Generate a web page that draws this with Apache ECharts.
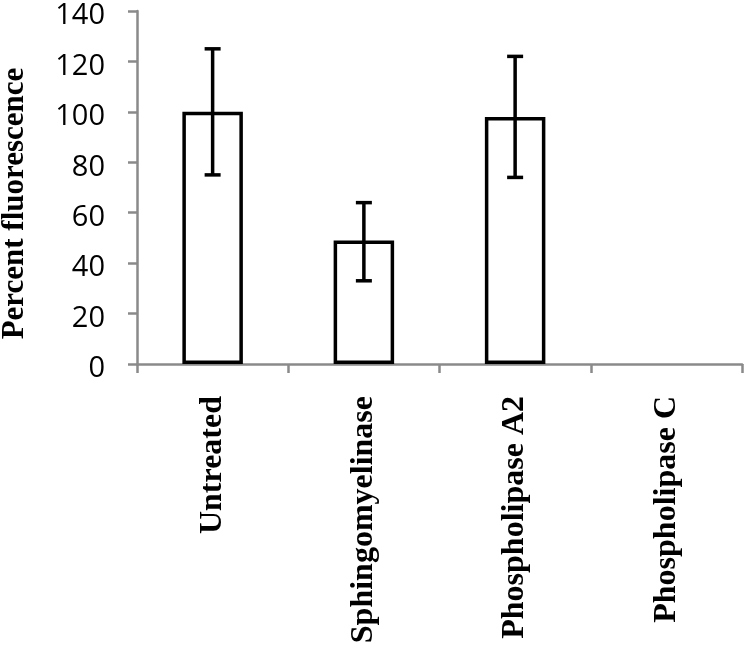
<!DOCTYPE html>
<html>
<head>
<meta charset="utf-8">
<script src="https://cdn.jsdelivr.net/npm/echarts@6/dist/echarts.min.js"></script>
<style>html,body{margin:0;padding:0;background:#fff}#c{width:747px;height:650px}</style>
</head>
<body>
<div id="c"></div>
<script>
const categories = ['Untreated', 'Sphingomyelinase', 'Phospholipase A2', 'Phospholipase C'];
const values = [100, 49, 98, 0];
const errLow = [75, 33, 74, null];
const errHigh = [125, 64, 122, null];
const yTicks = [0, 20, 40, 60, 80, 100, 120, 140];

const chart = echarts.init(document.getElementById('c'), null, {renderer: 'canvas'});
const errData = categories.map((c, i) => [i, errLow[i], errHigh[i]]).filter(d => d[1] != null);
const barData = values.map(v => v === 0 ? {value: v, itemStyle: {borderWidth: 0}} : v);

chart.setOption({
  animation: false,
  backgroundColor: '#fff',
  grid: {left: 137, right: 5, top: 11, bottom: 286, containLabel: false, outerBoundsMode: 'none'},
  xAxis: {
    type: 'category',
    data: categories,
    axisLine: {lineStyle: {color: '#8a8a8a', width: 2.5}},
    axisTick: {show: true, length: 9, inside: false, alignWithLabel: false, lineStyle: {color: '#8a8a8a', width: 2.5}},
    axisLabel: {
      rotate: 90, margin: 32, interval: 0,
      fontFamily: '"Liberation Serif", "Times New Roman", serif',
      fontWeight: 'bold', fontSize: 32, color: '#000'
    }
  },
  yAxis: {
    type: 'value',
    min: yTicks[0], max: yTicks[yTicks.length - 1], interval: 20,
    name: 'Percent fluorescence',
    nameLocation: 'middle',
    nameRotate: 90,
    nameGap: 107,
    nameTextStyle: {fontFamily: '"Liberation Serif", "Times New Roman", serif', fontWeight: 'bold', fontSize: 31, color: '#000', padding: [0, 32, 0, 0]},
    axisLine: {show: true, lineStyle: {color: '#8a8a8a', width: 2.5}},
    axisTick: {show: true, length: 9, lineStyle: {color: '#8a8a8a', width: 2.5}},
    splitLine: {show: false},
    axisLabel: {
      margin: 32,
      formatter: function (v) { return '{n|' + v + '}'; },
      rich: {n: {fontFamily: '"Open Sans", sans-serif', fontSize: 29, color: '#000', padding: [10, 0, 0, 0]}}
    }
  },
  series: [
    {
      type: 'bar',
      data: barData,
      barWidth: '40%',
      itemStyle: {color: '#fff', borderColor: '#000', borderWidth: 3.5},
      z: 2
    },
    {
      type: 'custom',
      data: errData,
      z: 3,
      renderItem: function (params, api) {
        const x = api.value(0);
        const lo = api.coord([x, api.value(1)]);
        const hi = api.coord([x, api.value(2)]);
        const hw = 8;
        const st = {stroke: '#000', lineWidth: 3.5};
        return {
          type: 'group',
          children: [
            {type: 'line', shape: {x1: lo[0], y1: lo[1], x2: hi[0], y2: hi[1]}, style: st},
            {type: 'line', shape: {x1: lo[0] - hw, y1: lo[1], x2: lo[0] + hw, y2: lo[1]}, style: st},
            {type: 'line', shape: {x1: hi[0] - hw, y1: hi[1], x2: hi[0] + hw, y2: hi[1]}, style: st}
          ]
        };
      }
    }
  ]
});
</script>
</body>
</html>
